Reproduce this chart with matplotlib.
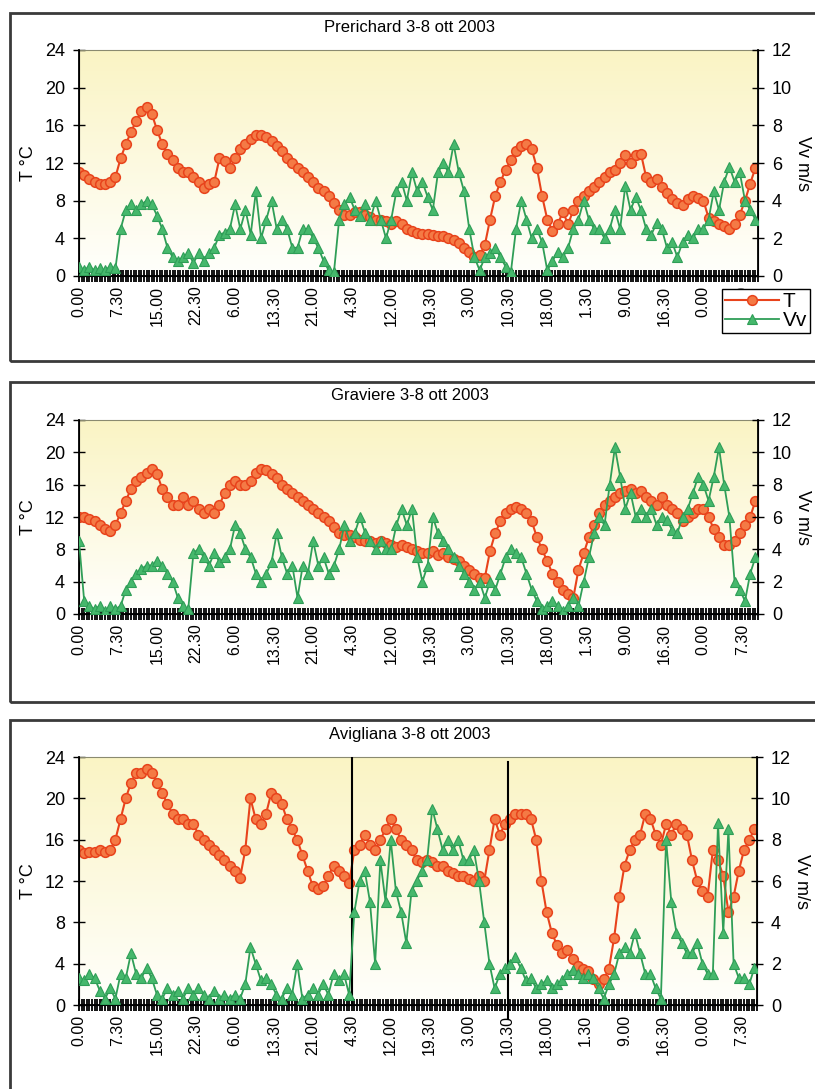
import numpy as np
import matplotlib
matplotlib.use('Agg')
import matplotlib.pyplot as plt
from matplotlib.patches import Rectangle

plt.rcParams['font.family'] = ['Liberation Sans', 'DejaVu Sans']

# ======================
# DATA (hourly readings, 3-8 ott 2003)
# ======================

hours = np.arange(131)

tick_labels = ['0.00', '7.30', '15.00', '22.30', '6.00', '13.30', '21.00',
               '4.30', '12.00', '19.30', '3.00', '10.30', '18.00', '1.30',
               '9.00', '16.30', '0.00', '7.30']

titles = ['Prerichard 3-8 ott 2003', 'Graviere 3-8 ott 2003',
          'Avigliana 3-8 ott 2003']

t_prerichard = [
    11, 10.7, 10.3, 10, 9.8, 9.8, 10, 10.5, 12.5, 14,
    15.3, 16.5, 17.5, 18, 17.2, 15.5, 14, 13, 12.3, 11.5,
    11, 11, 10.5, 10, 9.3, 9.8, 10, 12.5, 12.2, 11.5,
    12.5, 13.5, 14, 14.5, 15, 15, 14.8, 14.3, 13.8, 13.3,
    12.5, 12, 11.5, 11, 10.5, 10, 9.3, 9, 8.5, 7.8,
    7, 6.5, 6.5, 6.8, 6.8, 6.5, 6.3, 6, 6, 5.8,
    5.5, 5.8, 5.5, 5, 4.8, 4.6, 4.5, 4.5, 4.4, 4.3,
    4.2, 4, 3.8, 3.5, 3, 2.5, 2, 2.2, 3.3, 6,
    8.5, 10, 11.3, 12.3, 13.3, 13.8, 14, 13.5, 11.5, 8.5,
    6, 4.8, 5.5, 6.8, 5.5, 7, 8, 8.5, 9, 9.5,
    10, 10.5, 11, 11.3, 12, 12.8, 12, 12.8, 13, 10.5,
    10, 10.3, 9.5, 8.8, 8.2, 7.8, 7.5, 8.2, 8.5, 8.3,
    8, 6.2, 5.8, 5.5, 5.3, 5, 5.5, 6.5, 8, 9.8,
    11.5]

vv_prerichard = [
    0.5, 0.3, 0.5, 0.3, 0.4, 0.3, 0.5, 0.4, 2.5, 3.5,
    3.8, 3.5, 3.8, 4, 3.8, 3.2, 2.5, 1.5, 1, 0.8,
    1, 1.2, 0.7, 1.2, 0.8, 1.2, 1.5, 2.2, 2.3, 2.5,
    3.8, 2.5, 3.5, 2.2, 4.5, 2, 3, 4, 2.5, 3,
    2.5, 1.5, 1.5, 2.5, 2.5, 2, 1.5, 0.8, 0.3, 0.2,
    3, 3.8, 4.2, 3.5, 3.2, 3.8, 3, 4, 3, 2,
    3, 4.5, 5, 4, 5.5, 4.5, 5, 4.2, 3.5, 5.5,
    6, 5.5, 7, 5.5, 4.5, 2.5, 1, 0.3, 1, 1.2,
    1.5, 1, 0.5, 0.2, 2.5, 4, 3, 2, 2.5, 1.8,
    0.3, 0.8, 1.3, 1, 1.5, 2.5, 3, 4, 3, 2.5,
    2.5, 2, 2.5, 3.5, 2.5, 4.8, 3.5, 4.2, 3.5, 2.5,
    2.2, 2.8, 2.5, 1.5, 1.8, 1, 1.8, 2.2, 2, 2.5,
    2.5, 3, 4.5, 3.5, 5, 5.8, 5, 5.5, 4, 3.5,
    3]

t_graviere = [
    12, 12, 11.8, 11.5, 11, 10.5, 10.3, 11, 12.5, 14,
    15.5, 16.5, 17, 17.5, 18, 17.3, 15.5, 14.5, 13.5, 13.5,
    14.5, 13.5, 14, 13, 12.5, 13, 12.5, 13.5, 15, 16,
    16.5, 16, 16, 16.5, 17.5, 18, 17.8, 17.3, 16.8, 16,
    15.5, 15, 14.5, 14, 13.5, 13, 12.5, 12, 11.5, 10.8,
    10, 9.8, 9.8, 9.5, 9.2, 9, 9, 8.8, 9, 8.8,
    8.5, 8.3, 8.5, 8.3, 8, 7.8, 7.5, 7.5, 7.8, 7.3,
    7.5, 7, 6.8, 6.5, 6, 5.5, 5, 4.5, 4.5, 7.8,
    10, 11.5, 12.5, 13, 13.2, 13, 12.5, 11.5, 9.5, 8,
    6.5, 5, 4, 3, 2.5, 2, 5.5, 7.5, 9.5, 11,
    12.5, 13.5, 14, 14.5, 15, 15.2, 15.5, 15, 15.2, 14.5,
    14, 13.5, 14.5, 13.5, 13, 12.5, 11.5, 12, 12.5, 13,
    13, 12, 10.5, 9.5, 8.5, 8.5, 9, 10, 11, 12,
    14]

vv_graviere = [
    4.5, 0.8, 0.5, 0.3, 0.5, 0.2, 0.5, 0.3, 0.5, 1.5,
    2, 2.5, 2.8, 3, 3, 3.3, 3, 2.5, 2, 1,
    0.5, 0.3, 3.8, 4, 3.5, 3, 3.8, 3.2, 3.5, 4,
    5.5, 5, 4, 3.5, 2.5, 2, 2.5, 3.2, 5, 3.5,
    2.5, 3, 1, 3, 2.5, 4.5, 3, 3.5, 2.5, 3,
    4, 5.5, 4.5, 5, 6, 5, 4.5, 4, 4.5, 4,
    4, 5.5, 6.5, 5.5, 6.5, 3.5, 2, 3, 6, 5,
    4.5, 4, 3.5, 3, 2.5, 2, 1.5, 2, 1, 2,
    1.5, 2.5, 3.5, 4, 3.8, 3.5, 2.5, 1.5, 0.8, 0.3,
    0.5, 0.8, 0.5, 0.2, 0.5, 1, 0.5, 2, 3.5, 5,
    6, 5.5, 8, 10.3, 8.5, 6.5, 7.5, 6, 6.5, 6,
    6.5, 5.5, 6, 5.8, 5.2, 5, 6, 6.5, 7.5, 8.5,
    8, 7, 8.5, 10.3, 8, 6, 2, 1.5, 0.8, 2.5,
    3.5]

t_avigliana = [
    15, 14.7, 14.8, 14.8, 15, 14.8, 15, 16, 18, 20,
    21.5, 22.5, 22.5, 22.8, 22.5, 21.5, 20.5, 19.5, 18.5, 18,
    18, 17.5, 17.5, 16.5, 16, 15.5, 15, 14.5, 14, 13.5,
    13, 12.3, 15, 20, 18, 17.5, 18.5, 20.5, 20, 19.5,
    18, 17, 16, 14.5, 13, 11.5, 11.2, 11.5, 12.5, 13.5,
    13, 12.5, 11.8, 15, 15.5, 16.5, 15.5, 15, 16, 17,
    18, 17, 16, 15.5, 15, 14, 13.8, 14, 13.8, 13.5,
    13.5, 13, 12.8, 12.5, 12.5, 12.2, 12, 12.5, 12, 15,
    18, 16.5, 17.5, 18, 18.5, 18.5, 18.5, 18, 16, 12,
    9, 7, 5.8, 5, 5.3, 4.5, 3.8, 3.5, 3.3, 2.5,
    2, 2.5, 3.5, 6.5, 10.5, 13.5, 15, 16, 16.5, 18.5,
    18, 16.5, 15.5, 17.5, 16.5, 17.5, 17, 16.5, 14, 12,
    11, 10.5, 15, 14, 12.5, 9, 10.5, 13, 15, 16,
    17]

vv_avigliana = [
    1.3, 1.2, 1.5, 1.3, 0.7, 0.3, 0.8, 0.3, 1.5, 1.3,
    2.5, 1.5, 1.3, 1.8, 1.3, 0.5, 0.3, 0.8, 0.5, 0.7,
    0.3, 0.8, 0.5, 0.8, 0.5, 0.3, 0.7, 0.3, 0.5, 0.3,
    0.5, 0.3, 1, 2.8, 2, 1.2, 1.3, 1, 0.5, 0.3,
    0.8, 0.5, 2, 0.3, 0.5, 0.8, 0.5, 1, 0.5, 1.5,
    1.2, 1.5, 0.5, 4.5, 6, 6.5, 5, 2, 7, 5,
    8, 5.5, 4.5, 3, 5.5, 6, 6.5, 7, 9.5, 8.5,
    7.5, 8, 7.5, 8, 7, 7, 7.5, 6, 4, 2,
    0.8, 1.5, 1.8, 2, 2.3, 1.8, 1.2, 1.3, 0.8, 1,
    1.2, 0.8, 1, 1.2, 1.5, 1.7, 1.5, 1.3, 1.5, 1.3,
    0.8, 0.3, 1, 1.5, 2.5, 2.8, 2.5, 3.5, 2.5, 1.5,
    1.5, 0.8, 0.3, 8, 5, 3.5, 3, 2.5, 2.5, 3,
    2, 1.5, 1.5, 8.8, 3.5, 8.5, 2, 1.3, 1.3, 1,
    1.8]

temps = [t_prerichard, t_graviere, t_avigliana]
winds = [vv_prerichard, vv_graviere, vv_avigliana]

# ======================
# LAYOUT (pixels of the 815x1089 page)
# ======================

W, H = 815, 1089
# plot areas: left, top, right, bottom
areas = [(79, 50, 758, 276), (79, 420, 758, 614), (79, 757, 757, 1005)]
# frames: top, bottom
frames = [(13, 361), (382, 702), (720, 1100)]
title_y = [28, 395, 734]

fig = plt.figure(figsize=(W / 100, H / 100), dpi=100)

red = '#e8431c'
red_face = '#f47a45'
green = '#2f9e57'
green_face = '#46b86c'

grad = np.linspace(0, 1, 256).reshape(-1, 1)
top_col = np.array([250, 244, 196]) / 255
bot_col = np.array([255, 255, 252]) / 255
grad_rgb = top_col * (1 - grad[..., None]) + bot_col * grad[..., None]

for i in range(3):
    l, t, r, b = areas[i]
    ax = fig.add_axes([l / W, 1 - b / H, (r - l) / W, (b - t) / H])

    ax.imshow(grad_rgb, extent=[0, 130.5, 0, 24], aspect='auto', zorder=0)

    ax.plot(hours, temps[i], color=red, lw=1.5, marker='o', markersize=7,
            markerfacecolor=red_face, markeredgecolor=red,
            markeredgewidth=1.1, label='T', zorder=3)

    ax.set_xlim(0, 130.5)
    ax.set_ylim(0, 24)
    ax.set_yticks(np.arange(0, 25, 4))
    ax.set_xticks(np.arange(18) * 7.5)
    ax.set_xticklabels(tick_labels, rotation=90)
    ax.set_xticks(np.arange(0, 131, 0.5), minor=True)
    ax.tick_params(axis='x', which='major', direction='inout', length=8,
                   width=1.3, labelsize=11.5, pad=3)
    ax.tick_params(axis='x', which='minor', direction='inout', length=8,
                   width=1.3)
    ax.tick_params(axis='y', direction='inout', length=8, width=1,
                   labelsize=13, pad=6)
    ax.set_ylabel('T °C', fontsize=13, labelpad=6)

    for side in ['left', 'bottom']:
        ax.spines[side].set_linewidth(1.3)
    ax.spines['top'].set_color('#8a8a70')
    ax.spines['top'].set_linewidth(0.8)

    ax2 = ax.twinx()
    ax2.plot(hours, winds[i], color=green, lw=1.3, marker='^', markersize=7,
             markerfacecolor=green_face, markeredgecolor=green,
             markeredgewidth=0.8, label='Vv', zorder=3)
    ax2.set_ylim(0, 12)
    ax2.set_yticks(np.arange(0, 13, 2))
    ax2.tick_params(axis='y', direction='inout', length=8, width=1,
                    labelsize=13, pad=6)
    ax2.spines['right'].set_linewidth(1.3)
    ax2.spines['top'].set_visible(False)
    ax2.set_ylabel('Vv m/s', fontsize=13, rotation=270, labelpad=14)

    if i == 2:
        ax.plot([52.5, 52.5], [0, 24], color='black', lw=1.5, zorder=4)
        ax.plot([82.5, 82.5], [-1.3, 23.5], color='black', lw=1.5,
                zorder=4, clip_on=False)

    if i == 0:
        h1, l1 = ax.get_legend_handles_labels()
        h2, l2 = ax2.get_legend_handles_labels()
        fig.legend(h1 + h2, l1 + l2, loc='upper left',
                   bbox_to_anchor=(722 / W, 1 - 289 / H), fontsize=15,
                   frameon=True, fancybox=False, edgecolor='black',
                   framealpha=1, borderpad=0.15, labelspacing=0.0,
                   handlelength=2.6, handletextpad=0.15, borderaxespad=0)

    fig.text(410 / W, 1 - title_y[i] / H, titles[i], ha='center',
             va='center', fontsize=12)

    ft, fb = frames[i]
    fig.patches.append(Rectangle((10 / W, 1 - fb / H), 1.2, (fb - ft) / H,
                                 transform=fig.transFigure, fill=False,
                                 edgecolor='#3a3a3a', lw=2))

plt.savefig('out.png', dpi=100)
plt.close()
